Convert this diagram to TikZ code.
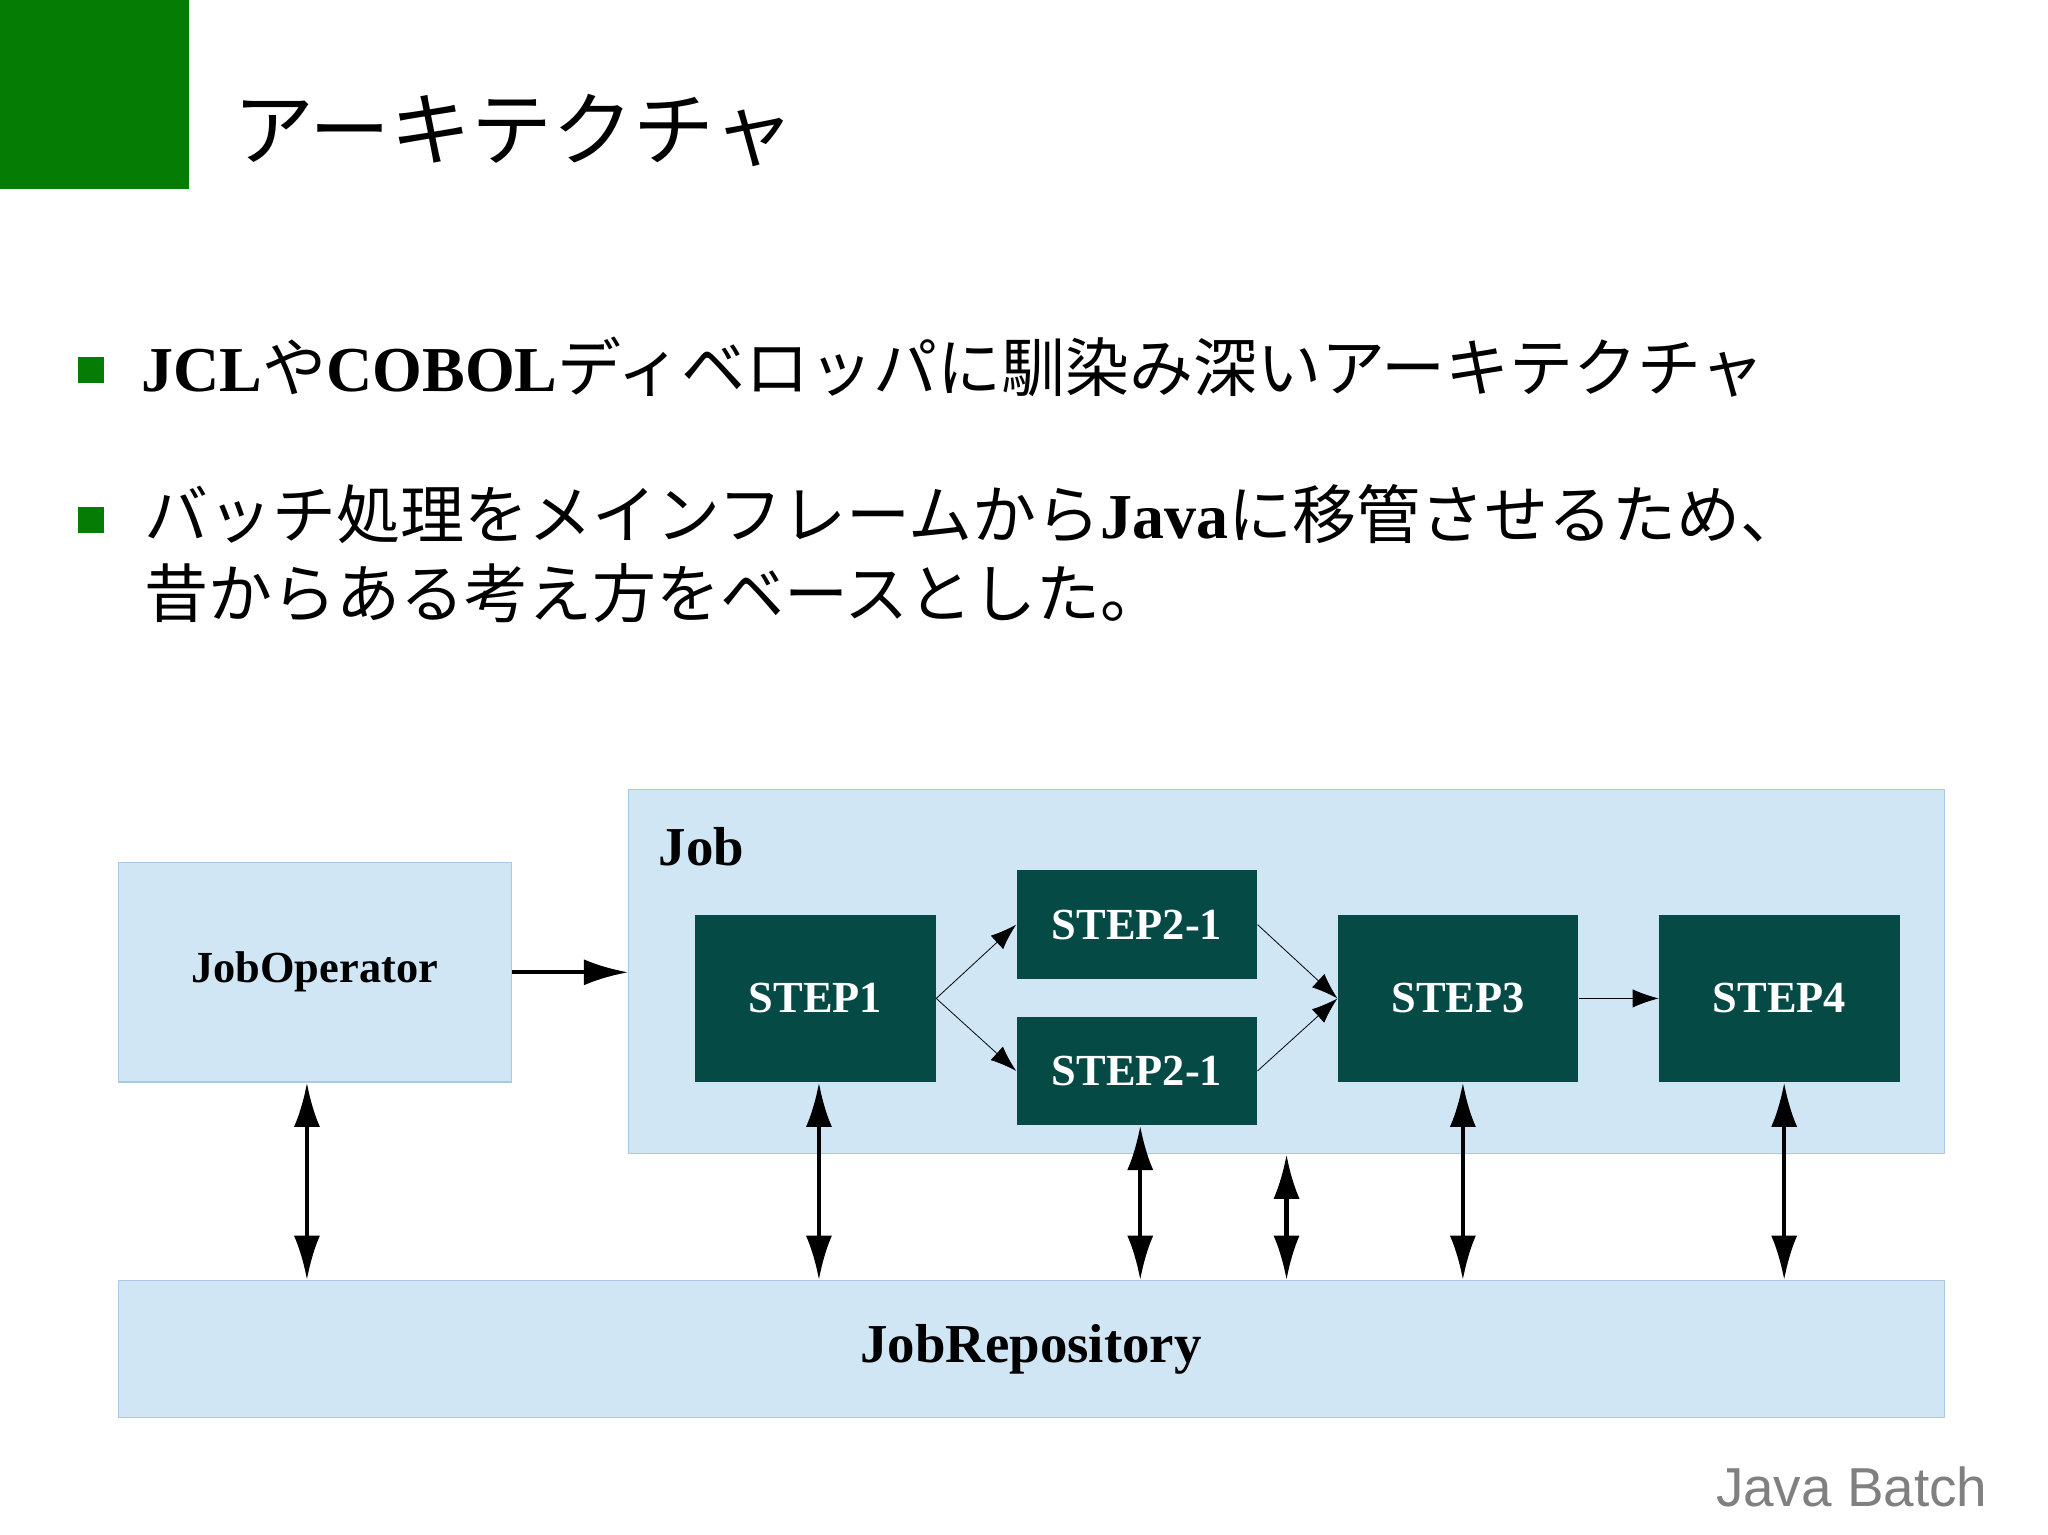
\documentclass[tikz,border=0pt]{standalone}
\usepackage{fontspec}
\newfontfamily\cjk{Noto Sans CJK JP}
\newfontfamily\lsans{Liberation Sans}
\newfontfamily\lserif{Liberation Serif}
\newcommand{\goth}[1]{{\lserif\bfseries #1}}
\usetikzlibrary{arrows.meta}
\definecolor{lb}{RGB}{208,230,245}
\definecolor{lbd}{RGB}{170,200,225}
\definecolor{teal}{RGB}{6,74,70}
\definecolor{gr}{RGB}{5,125,5}
\begin{document}
\begin{tikzpicture}[x=0.5pt,y=-0.5pt,
 box/.style={draw=lbd,fill=lb,line width=0.4pt,anchor=north west,inner sep=0},
 stp/.style={fill=teal,anchor=north west,inner sep=0,text=white,font=\fontsize{17}{17}\selectfont},
 big/.style={-{Latex[length=17pt,width=10pt]},line width=1.6pt},
 dbl/.style={{Latex[length=17pt,width=10pt]}-{Latex[length=17pt,width=10pt]},line width=1.6pt},
 thin/.style={-{Latex[length=10pt,width=7pt]},line width=0.3pt},
 txt/.style={anchor=west,inner sep=0,font=\cjk\fontsize{24.5}{30}\selectfont}]
\useasboundingbox (0,0) rectangle (1568,1175);
\fill[white] (0,0) rectangle (1568,1175);
\fill[gr] (0,0) rectangle (145,145);
\node[anchor=west,inner sep=0,font=\cjk\fontsize{31}{31}\selectfont] (title) at (178,100) {アーキテクチャ};
\fill[gr] (60,273) rectangle (80,293);
\node[txt] (b1) at (108,281) {\goth{JCL}や\goth{COBOL}ディベロッパに馴染み深いアーキテクチャ};
\fill[gr] (60,388) rectangle (80,408);
\node[txt,align=left] (b2) at (110,424) {バッチ処理をメインフレームから\goth{Java}に移管させるため、\\昔からある考え方をベースとした。};
\node[box,minimum width=1007*0.5pt,minimum height=279*0.5pt] (job) at (481,604) {};
\node[anchor=west,inner sep=0,font=\fontsize{21}{21}\selectfont] (joblbl) at (504,648) {\goth{Job}};
\node[box,minimum width=301*0.5pt,minimum height=168*0.5pt,font=\fontsize{17}{17}\selectfont] (op) at (90,660) {\goth{JobOperator}};
\node[box,minimum width=1398*0.5pt,minimum height=105*0.5pt,font=\fontsize{21}{21}\selectfont] (repo) at (90,980) {\goth{JobRepository}};
\node[stp,minimum width=184*0.5pt,minimum height=128*0.5pt] (s1) at (532,700) {\goth{STEP1}};
\node[stp,minimum width=184*0.5pt,minimum height=83*0.5pt] (s2a) at (778,666) {\goth{STEP2-1}};
\node[stp,minimum width=184*0.5pt,minimum height=83*0.5pt] (s2b) at (778,778) {\goth{STEP2-1}};
\node[stp,minimum width=184*0.5pt,minimum height=128*0.5pt] (s3) at (1024,700) {\goth{STEP3}};
\node[stp,minimum width=184*0.5pt,minimum height=128*0.5pt] (s4) at (1270,700) {\goth{STEP4}};
\draw[big] (op.east) -- (op.east -| job.west);
\draw[thin] (s1.east) -- (s2a.west);
\draw[thin] (s1.east) -- (s2b.west);
\draw[thin] (s2a.east) -- (s3.west);
\draw[thin] (s2b.east) -- (s3.west);
\draw[thin] (s3.east) -- (s4.west);
\draw[dbl] (op.south -| 235,0) -- (repo.north -| 235,0);
\draw[dbl] (s1.south -| 627,0) -- (repo.north -| 627,0);
\draw[dbl] (s2b.south -| 873,0) -- (repo.north -| 873,0);
\draw[dbl] (job.south -| 985,0) -- (repo.north -| 985,0);
\draw[dbl] (s3.south -| 1120,0) -- (repo.north -| 1120,0);
\draw[dbl] (s4.south -| 1366,0) -- (repo.north -| 1366,0);
\node[anchor=east,inner sep=0,text=gray,font=\lsans\fontsize{21}{21}\selectfont] (foot) at (1522,1138) {Java Batch};
\end{tikzpicture}
\end{document}
